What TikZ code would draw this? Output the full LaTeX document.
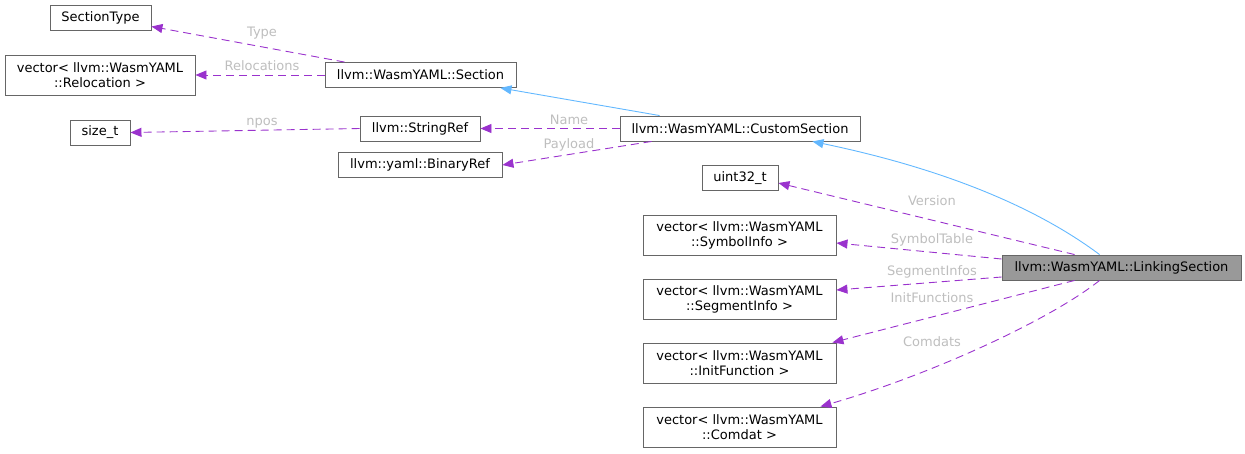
\documentclass[tikz,border=0pt]{standalone}
\usepackage{fontspec}
\setmainfont{DejaVu Sans}
\usetikzlibrary{arrows.meta}
\definecolor{edgepurple}{HTML}{9A32CD}
\definecolor{edgeblue}{HTML}{63B8FF}
\definecolor{boxgray}{HTML}{666666}
\definecolor{mainfill}{HTML}{999999}
\definecolor{lblgray}{HTML}{BEBEBE}
\begin{document}
\begin{tikzpicture}[x=1pt,y=-1pt,
  font=\fontsize{13}{15}\selectfont,
  cls/.style={draw=boxgray, line width=0.9pt, inner sep=0pt, align=center, fill=white},
  mainbox/.style={cls, fill=mainfill},
  dep/.style={draw=edgepurple, dash pattern=on 8pt off 5pt, line width=0.9pt,
    -{Triangle[length=11pt,width=9pt,fill=edgepurple]}},
  inh/.style={draw=edgeblue, line width=0.9pt,
    -{Triangle[length=11pt,width=9pt,fill=edgeblue]}},
  lbl/.style={text=lblgray, inner sep=1pt}]
\useasboundingbox (0,0) rectangle (1245,453);

% nodes
\node[cls, minimum width=101pt, minimum height=25pt] (sectype) at (100.5,17.5) {SectionType};
\node[cls, minimum width=190pt, minimum height=40pt] (reloc) at (100,75) {vector< llvm::WasmYAML\\::Relocation >};
\node[cls, minimum width=191pt, minimum height=25pt] (sec) at (420.5,75) {llvm::WasmYAML::Section};
\node[cls, minimum width=60pt, minimum height=25pt] (sizet) at (100,132.5) {size\_t};
\node[cls, minimum width=120pt, minimum height=25pt] (strref) at (420,128.5) {llvm::StringRef};
\node[cls, minimum width=240pt, minimum height=25pt] (cust) at (740,128.5) {llvm::WasmYAML::CustomSection};
\node[cls, minimum width=164pt, minimum height=25pt] (binref) at (420,165) {llvm::yaml::BinaryRef};
\node[cls, minimum width=76pt, minimum height=25pt] (u32) at (740,178) {uint32\_t};
\node[cls, minimum width=193pt, minimum height=40pt] (sym) at (739.5,235) {vector< llvm::WasmYAML\\::SymbolInfo >};
\node[cls, minimum width=193pt, minimum height=40pt] (seg) at (739.5,299) {vector< llvm::WasmYAML\\::SegmentInfo >};
\node[cls, minimum width=193pt, minimum height=40pt] (initf) at (739.5,363) {vector< llvm::WasmYAML\\::InitFunction >};
\node[cls, minimum width=193pt, minimum height=40pt] (comdat) at (739.5,427) {vector< llvm::WasmYAML\\::Comdat >};
\node[mainbox, minimum width=239pt, minimum height=25pt] (link) at (1121.5,267.5) {llvm::WasmYAML::LinkingSection};

% edges
\draw[dep] ([xshift=20pt]sec.north west) -- ([yshift=-9pt]sectype.east);
\node[lbl] (lType) at (262,33) {Type};
\draw[dep] (sec.west) -- (reloc.east);
\node[lbl] (lReloc) at (262,66) {Relocations};
\draw[dep] (strref.west) -- (sizet.east);
\node[lbl] (lNpos) at (262,123) {npos};
\draw[inh] ([xshift=40pt]cust.north west) -- ([xshift=-16pt]sec.south east);
\draw[dep] (cust.west) -- (strref.east);
\node[lbl] (lName) at (569,120) {Name};
\draw[dep] ([xshift=32pt]cust.south west) -- (binref.east);
\node[lbl] (lPay) at (569,145) {Payload};
\draw[inh] ([xshift=98pt]link.north west) .. controls (1040,210) and (950,170) .. ([xshift=-48pt]cust.south east);
\draw[dep] ([xshift=73pt]link.north west) -- ([yshift=-5pt]u32.east);
\node[lbl] (lVer) at (932,201) {Version};
\draw[dep] ([yshift=8.5pt]link.west) -- ([yshift=-8pt]sym.east);
\node[lbl] (lSym) at (932,240) {SymbolTable};
\draw[dep] ([yshift=-9.5pt]link.west) -- ([yshift=9pt]seg.east);
\node[lbl] (lSeg) at (932,272) {SegmentInfos};
\draw[dep] ([xshift=73pt]link.south west) -- ([xshift=-4pt]initf.north east);
\node[lbl] (lInit) at (932,298) {InitFunctions};
\draw[dep] ([xshift=98pt]link.south west) .. controls (1050,320) and (930,375) .. ([xshift=-16pt]comdat.north east);
\node[lbl] (lCom) at (932,342) {Comdats};
\end{tikzpicture}
\end{document}
